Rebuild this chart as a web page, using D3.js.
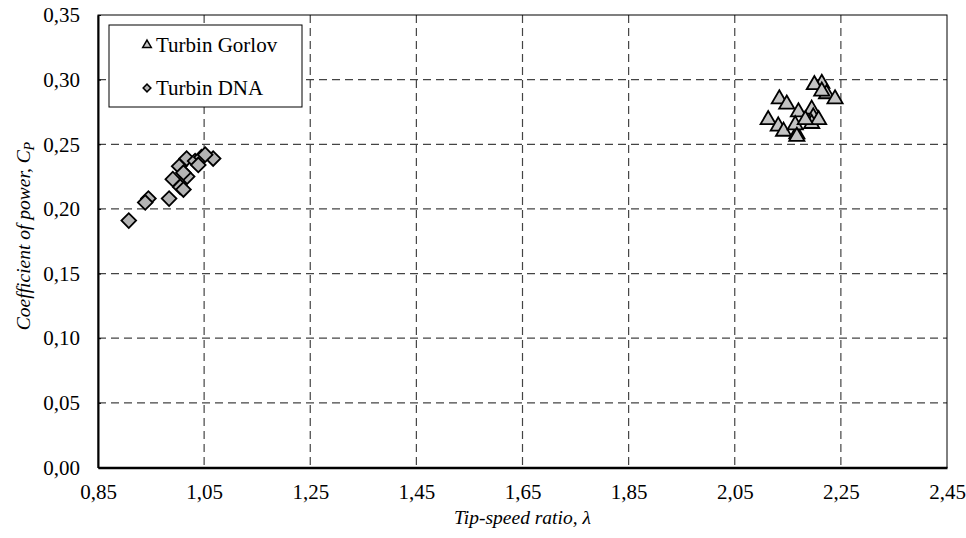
<!DOCTYPE html>
<html>
<head>
<meta charset="utf-8">
<script src="https://d3js.org/d3.v7.min.js"></script>
<style>
  body { margin: 0; background: white; }
  svg text { font-family: "Liberation Serif", "Times New Roman", serif; fill: black; }
</style>
</head>
<body>
<svg id="chart" width="966" height="538"></svg>
<script>
// Turbin Gorlov (tip-speed ratio, Cp)
var gorlovX = [2.214, 2.200, 2.223, 2.239, 2.214, 2.134, 2.148, 2.170, 2.195, 2.198,
               2.113, 2.132, 2.142, 2.167, 2.164, 2.195, 2.208, 2.183, 2.167];
var gorlovY = [0.297, 0.296, 0.289, 0.285, 0.291, 0.285, 0.281, 0.275, 0.277, 0.271,
               0.269, 0.264, 0.260, 0.258, 0.265, 0.266, 0.269, 0.269, 0.256];
// Turbin DNA
var dnaX = [0.908, 0.945, 0.939, 0.984, 0.991, 1.005, 1.011, 1.003, 1.018, 1.017,
            1.033, 1.045, 1.039, 1.067, 1.052, 1.011];
var dnaY = [0.191, 0.208, 0.205, 0.208, 0.223, 0.217, 0.215, 0.233, 0.225, 0.239,
            0.237, 0.240, 0.234, 0.239, 0.242, 0.228];

var xTicks = [0.85, 1.05, 1.25, 1.45, 1.65, 1.85, 2.05, 2.25, 2.45];
var yTicks = [0, 0.05, 0.10, 0.15, 0.20, 0.25, 0.30, 0.35];
var seriesNames = ["Turbin Gorlov", "Turbin DNA"];

var svg = d3.select("#chart");
var pLeft = 98, pRight = 947, pTop = 15, pBottom = 467.5;

var x = d3.scaleLinear().domain([0.85, 2.45]).range([pLeft, pRight]);
var y = d3.scaleLinear().domain([0, 0.35]).range([pBottom, pTop]);
var fmt = function(d) { return d3.format(".2f")(d).replace(".", ","); };

// grid
svg.append("g").selectAll("line")
  .data(yTicks.filter(function(d) { return d > 0 && d < 0.35; }))
  .enter().append("line")
  .attr("x1", pLeft).attr("x2", pRight)
  .attr("y1", function(d) { return y(d); }).attr("y2", function(d) { return y(d); })
  .attr("stroke", "#444").attr("stroke-width", 1.2).attr("stroke-dasharray", "8,5");
svg.append("g").selectAll("line")
  .data(xTicks.filter(function(d) { return d > 0.85 && d < 2.45; }))
  .enter().append("line")
  .attr("x1", function(d) { return x(d); }).attr("x2", function(d) { return x(d); })
  .attr("y1", pTop).attr("y2", pBottom)
  .attr("stroke", "#444").attr("stroke-width", 1.2).attr("stroke-dasharray", "8,5");

// frame
svg.append("rect")
  .attr("x", pLeft).attr("y", pTop)
  .attr("width", pRight - pLeft).attr("height", pBottom - pTop)
  .attr("fill", "none").attr("stroke", "black").attr("stroke-width", 1);

// axes
var yAxis = svg.append("g")
  .attr("transform", "translate(" + pLeft + ",0)")
  .call(d3.axisLeft(y).tickValues(yTicks).tickFormat(fmt).tickSizeInner(-3).tickSizeOuter(0).tickPadding(18));
yAxis.select(".domain").attr("stroke-width", 2);
yAxis.selectAll("text").style("font-size", "21px");

var xAxis = svg.append("g")
  .attr("transform", "translate(0," + pBottom + ")")
  .call(d3.axisBottom(x).tickValues(xTicks).tickFormat(fmt).tickSizeInner(0).tickSizeOuter(0).tickPadding(17));
xAxis.select(".domain").attr("stroke-width", 2.5);
xAxis.selectAll("text").style("font-size", "21px");

// axis titles
svg.append("text")
  .attr("x", (pLeft + pRight) / 2).attr("y", 524)
  .attr("text-anchor", "middle")
  .style("font-size", "19.5px").style("font-style", "italic")
  .text("Tip-speed ratio, λ");

var yt = svg.append("text")
  .attr("transform", "translate(30,236) rotate(-90)")
  .attr("text-anchor", "middle")
  .style("font-size", "19.5px").style("font-style", "italic");
yt.append("tspan").text("Coefficient of power, C");
yt.append("tspan").attr("dy", 4).style("font-size", "14px").text("P");

// markers
var tri = d3.symbol().type(d3.symbolTriangle).size(100);
var dia = d3.symbol().type(d3.symbolSquare).size(108);

svg.append("g").selectAll("path")
  .data(d3.range(dnaX.length))
  .enter().append("path")
  .attr("d", dia)
  .attr("transform", function(i) { return "translate(" + x(dnaX[i]) + "," + y(dnaY[i]) + ") rotate(45)"; })
  .attr("fill", "#b4b4b4").attr("stroke", "black").attr("stroke-width", 1.8);

svg.append("g").selectAll("path")
  .data(d3.range(gorlovX.length))
  .enter().append("path")
  .attr("d", tri)
  .attr("transform", function(i) { return "translate(" + x(gorlovX[i]) + "," + y(gorlovY[i]) + ")"; })
  .attr("fill", "#c4c4c4").attr("stroke", "black").attr("stroke-width", 1.8);

// legend
var legend = svg.append("g");
legend.append("rect")
  .attr("x", 109).attr("y", 25).attr("width", 193).attr("height", 82)
  .attr("fill", "white").attr("stroke", "black").attr("stroke-width", 1);
legend.append("path")
  .attr("d", d3.symbol().type(d3.symbolTriangle).size(32))
  .attr("transform", "translate(147,45)")
  .attr("fill", "#c4c4c4").attr("stroke", "black").attr("stroke-width", 1.5);
legend.append("path")
  .attr("d", d3.symbol().type(d3.symbolSquare).size(30))
  .attr("transform", "translate(147,88) rotate(45)")
  .attr("fill", "#b4b4b4").attr("stroke", "black").attr("stroke-width", 1.5);
legend.selectAll("text.l")
  .data(seriesNames)
  .enter().append("text")
  .attr("x", 156).attr("y", function(d, i) { return 52 + i * 43; })
  .style("font-size", "21px")
  .text(function(d) { return d; });
</script>
</body>
</html>
